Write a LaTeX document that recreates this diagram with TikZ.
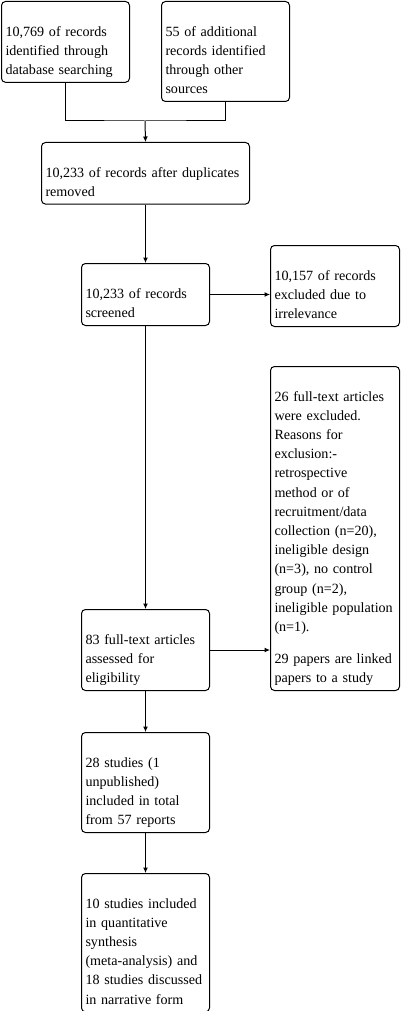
\documentclass[tikz,border=0pt]{standalone}
\usepackage{fontspec}
\setmainfont{Liberation Serif}
\usetikzlibrary{arrows.meta}
\newcommand{\boxfont}{\fontsize{14.1}{19.2}\selectfont}
\tikzset{
  flowbox/.style={draw, line width=1pt, rounded corners=4pt, anchor=north west,
    align=left, inner xsep=4pt, inner ysep=2pt, font=\boxfont},
  conn/.style={line width=1pt},
  arr/.style={line width=1pt, -{Latex[length=5.5pt,width=5pt]}}
}
\begin{document}
\begin{tikzpicture}[x=1pt,y=-1pt]
\useasboundingbox (0,0) rectangle (402,1011);
\node[flowbox, minimum width=128pt, minimum height=80pt, text width=120pt] (b1) at (1,1)
  {\strut\\10,769 of records\\identified through\\database searching\strut};
\node[flowbox, minimum width=128pt, minimum height=99pt, text width=120pt] (b2) at (161,1)
  {\strut\\55 of additional\\records identified\\through other\\sources\strut};
\node[flowbox, minimum width=208pt, minimum height=61pt, text width=200pt] (b3) at (41,142)
  {\strut\\10,233 of records after duplicates\\removed\strut};
\node[flowbox, minimum width=128pt, minimum height=62pt, text width=120pt] (b4) at (81,263)
  {\strut\\10,233 of records\\screened\strut};
\node[flowbox, minimum width=129pt, minimum height=81pt, text width=121pt] (b5) at (270,245)
  {\strut\\10,157 of records\\excluded due to\\irrelevance\strut};
\node[flowbox, minimum width=129pt, minimum height=324pt, text width=121pt] (b6) at (270,366)
  {\strut\\26 full-text articles\\were excluded.\\Reasons for\\exclusion:-\\retrospective\\method or of\\recruitment/data\\collection (n=20),\\ineligible design\\(n=3), no control\\group (n=2),\\ineligible population\\(n=1).\\[12.8pt]29 papers are linked\\papers to a study\strut};
\node[flowbox, minimum width=128pt, minimum height=81pt, text width=120pt] (b7) at (81,609)
  {\strut\\83 full-text articles\\assessed for\\eligibility\strut};
\node[flowbox, minimum width=128pt, minimum height=99pt, text width=120pt] (b8) at (81,732)
  {\strut\\28 studies (1\\unpublished)\\included in total\\from 57 reports\strut};
\node[flowbox, minimum width=128pt, minimum height=137pt, text width=120pt] (b9) at (81,873)
  {\strut\\10 studies included\\in quantitative\\synthesis\\(meta-analysis) and\\18 studies discussed\\in narrative form\strut};
\coordinate (j) at (145,121);
\draw[conn] (b1.south) |- (j) -| (b2.south);
\draw[arr] (j) -- (b3.north);
\draw[arr] (b3.south) -- (b4.north);
\draw[arr] (b4.east) -- (b4.east -| b5.west);
\draw[arr] (b4.south) -- (b7.north);
\draw[arr] (b7.east) -- (b7.east -| b6.west);
\draw[arr] (b7.south) -- (b8.north);
\draw[arr] (b8.south) -- (b9.north);
\end{tikzpicture}
\end{document}
